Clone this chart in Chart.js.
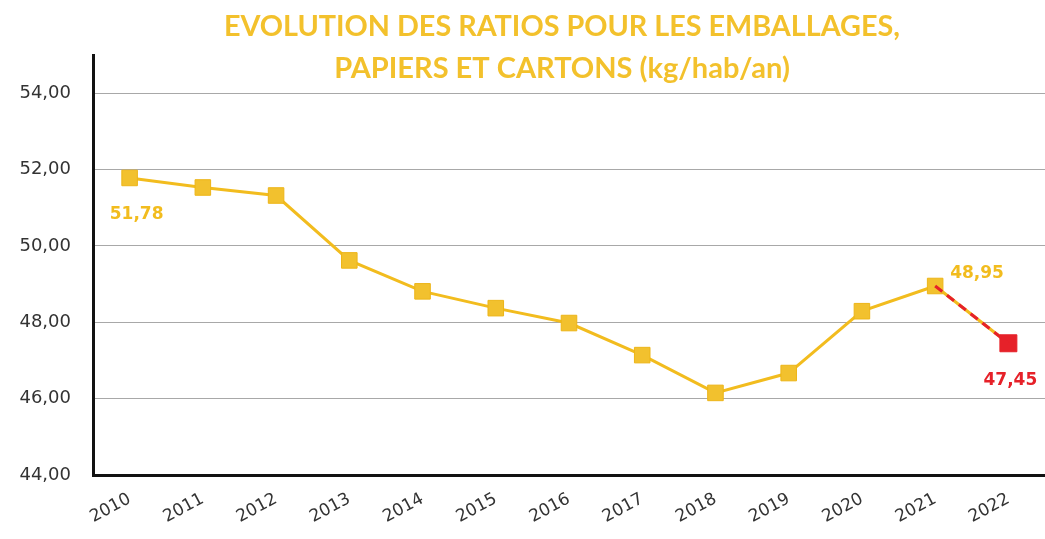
<!DOCTYPE html>
<html>
<head>
<meta charset="utf-8">
<script src="https://cdn.jsdelivr.net/npm/chart.js@4/dist/chart.umd.min.js"></script>
<style>
  html, body { margin: 0; padding: 0; background: #ffffff; }
  #wrap { position: relative; width: 1045px; height: 539px; }
</style>
</head>
<body>
<div id="wrap"><canvas id="c" width="1045" height="539"></canvas></div>
<script>
// ---- Data ----
const categories = ['2010','2011','2012','2013','2014','2015','2016','2017','2018','2019','2020','2021','2022'];
const ratios = [51.78, 51.53, 51.32, 49.62, 48.81, 48.37, 47.98, 47.14, 46.15, 46.67, 48.29, 48.95, 47.45];
const forecastSegment = [null, null, null, null, null, null, null, null, null, null, null, 48.95, 47.45];
const labelledIndices = [0, 11, 12];
const titleLines = ['EVOLUTION DES RATIOS POUR LES EMBALLAGES,', 'PAPIERS ET CARTONS (kg/hab/an)'];
const yMin = 44, yMax = 55, yStep = 2;

const GOLD = '#F2BC1E';
const GOLD_TITLE = '#F3C12C';
const RED = '#E62129';
const fmt = v => v.toFixed(2).replace('.', ',');

const titlePlugin = {
  id: 'titleText',
  afterDraw(chart) {
    const ctx = chart.ctx;
    ctx.save();
    ctx.fillStyle = GOLD_TITLE;
    ctx.textAlign = 'center';
    ctx.textBaseline = 'alphabetic';
    ctx.font = 'bold 29px "Liberation Sans Narrow", Lato, sans-serif';
    ctx.fillText(titleLines[0], 562, 36, 676);
    ctx.fillText(titleLines[1], 562, 78, 476);
    ctx.restore();
  }
};

const valueLabels = {
  id: 'valueLabels',
  afterDatasetsDraw(chart) {
    const ctx = chart.ctx;
    const meta = chart.getDatasetMeta(0);
    ctx.save();
    ctx.font = 'bold 17px "DejaVu Sans", sans-serif';
    ctx.textBaseline = 'middle';
    labelledIndices.forEach(i => {
      const p = meta.data[i];
      const txt = fmt(ratios[i]);
      if (i === 0) {
        ctx.fillStyle = GOLD; ctx.textAlign = 'center';
        ctx.fillText(txt, p.x + 7, p.y + 37);
      } else if (i === 11) {
        ctx.fillStyle = GOLD; ctx.textAlign = 'left';
        ctx.fillText(txt, p.x + 15, p.y - 12);
      } else {
        ctx.fillStyle = RED; ctx.textAlign = 'center';
        ctx.fillText(txt, p.x + 2, p.y + 37);
      }
    });
    ctx.restore();
  }
};

new Chart(document.getElementById('c'), {
  type: 'line',
  data: {
    labels: categories,
    datasets: [
      {
        data: ratios,
        borderColor: GOLD,
        borderWidth: 3,
        pointStyle: 'rect',
        pointRadius: ratios.map((v, i) => i === ratios.length - 1 ? 12 : 11),
        pointBackgroundColor: ratios.map((v, i) => i === ratios.length - 1 ? RED : '#F2C12E'),
        pointBorderColor: ratios.map((v, i) => i === ratios.length - 1 ? RED : '#EDB518'),
        pointBorderWidth: 1,
        tension: 0,
        clip: false,
        order: 2
      },
      {
        data: forecastSegment,
        borderColor: RED,
        borderWidth: 3,
        borderDash: [9, 6],
        pointRadius: 0,
        tension: 0,
        clip: false,
        order: 1
      }
    ]
  },
  options: {
    responsive: false,
    animation: false,
    devicePixelRatio: 1,
    layout: { autoPadding: false, padding: { top: 55, left: 0, right: 0, bottom: 0 } },
    plugins: { legend: { display: false }, title: { display: false }, tooltip: { enabled: false } },
    scales: {
      x: {
        offset: true,
        grid: { display: false, drawTicks: false },
        border: { color: '#111', width: 3 },
        ticks: {
          color: '#333',
          font: { family: '"DejaVu Sans", sans-serif', size: 17 },
          minRotation: 28, maxRotation: 28,
          padding: 14,
          autoSkip: false
        },
        afterFit(scale) { scale.height = 64; scale.paddingRight = 0; scale.paddingLeft = 0; }
      },
      y: {
        min: yMin, max: yMax,
        grid: { color: '#A8A8A8', lineWidth: 1, drawTicks: false },
        border: { color: '#111', width: 3 },
        ticks: {
          stepSize: yStep,
          includeBounds: false,
          color: '#333',
          font: { family: '"DejaVu Sans", sans-serif', size: 18 },
          padding: 22,
          callback: v => fmt(v)
        },
        afterFit(scale) { scale.width = 93; scale.paddingTop = 0; scale.paddingBottom = 0; }
      }
    }
  },
  plugins: [valueLabels, titlePlugin]
});
</script>
</body>
</html>
